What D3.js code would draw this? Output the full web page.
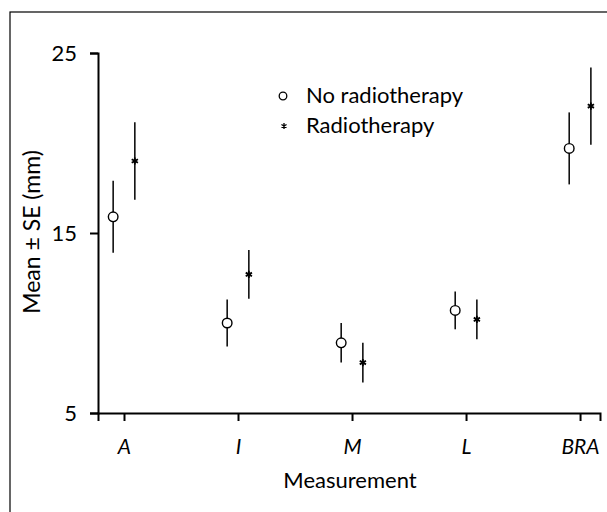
<!DOCTYPE html>
<html><head><meta charset="utf-8">
<script src="https://cdn.jsdelivr.net/npm/d3@7"></script>
<style>body{margin:0;background:#fff}svg{display:block}text{font-family:Lato,"Open Sans",sans-serif;fill:#000}</style>
</head><body>
<script>
const categories = ["A","I","M","L","BRA"];
const noRadMean = [15.9, 10.0, 8.9, 10.7, 19.7];
const noRadSE   = [2.0, 1.3, 1.1, 1.05, 2.0];
const radMean   = [19.0, 12.7, 7.8, 10.2, 22.05];
const radSE     = [2.15, 1.35, 1.1, 1.1, 2.15];
const yTicks = [5, 15, 25];

const W = 607, H = 512;
const svg = d3.select("body").append("svg").attr("width", W).attr("height", H);
// outer frame
svg.append("rect").attr("x", 10).attr("y", 12).attr("width", 620).attr("height", 520)
  .attr("fill", "none").attr("stroke", "#000").attr("stroke-width", 1.2);

const x = d3.scaleLinear().domain([0.772, 5.175]).range([98, 600]);
const y = d3.scaleLinear().domain([5, 25]).range([413, 53]);
const off = 0.095;

// axes
const gx = svg.append("g").attr("transform", "translate(0,413)")
  .call(d3.axisBottom(x).tickValues([1,2,3,4,5]).tickFormat((d,i)=>categories[i]).tickSizeOuter(0).tickSize(8).tickPadding(18));
gx.select(".domain").attr("stroke-width", 2);
gx.selectAll(".tick line").attr("stroke-width", 2);
gx.selectAll(".tick text").attr("font-size", 21).attr("font-style", "italic").attr("fill", "#000").attr("font-family","Lato, sans-serif");

const gy = svg.append("g").attr("transform", "translate(98,0)")
  .call(d3.axisLeft(y).tickValues(yTicks).tickSizeOuter(0).tickSize(8).tickPadding(13));
gy.select(".domain").attr("stroke-width", 2);
gy.selectAll(".tick line").attr("stroke-width", 2);
gy.selectAll(".tick text").attr("font-size", 22).attr("fill", "#000").attr("font-family","Lato, sans-serif");

svg.append("text").attr("x", 350).attr("y", 488).attr("text-anchor", "middle")
  .attr("font-size", 22).text("Measurement");
svg.append("text").attr("transform", "translate(40,232) rotate(-90)").attr("text-anchor", "middle")
  .attr("font-size", 23).text("Mean \u00b1 SE (mm)");

const g = svg.append("g");
const star = d3.symbol().type(d3.symbolAsterisk).size(36);

categories.forEach((c, i) => {
  const xc = x(i + 1 - off), xs = x(i + 1 + off);
  g.append("line").attr("x1", xc).attr("x2", xc)
    .attr("y1", y(noRadMean[i] + noRadSE[i])).attr("y2", y(noRadMean[i] - noRadSE[i]))
    .attr("stroke", "#111").attr("stroke-width", 1.6);
  g.append("circle").attr("cx", xc).attr("cy", y(noRadMean[i])).attr("r", 4.8)
    .attr("fill", "#fff").attr("stroke", "#000").attr("stroke-width", 1.4);
  g.append("line").attr("x1", xs).attr("x2", xs)
    .attr("y1", y(radMean[i] + radSE[i])).attr("y2", y(radMean[i] - radSE[i]))
    .attr("stroke", "#111").attr("stroke-width", 1.6);
  g.append("path").attr("d", star).attr("transform", `translate(${xs},${y(radMean[i])})`)
    .attr("fill", "none").attr("stroke", "#000").attr("stroke-width", 1.8);
});

// legend
const lg = svg.append("g");
lg.append("circle").attr("cx", 283).attr("cy", 96).attr("r", 3.8).attr("fill", "none").attr("stroke", "#000").attr("stroke-width", 1.3);
lg.append("text").attr("x", 306).attr("y", 103).attr("font-size", 22).text("No radiotherapy");
lg.append("path").attr("d", d3.symbol().type(d3.symbolAsterisk).size(24)).attr("transform", "translate(284,126)")
  .attr("fill", "none").attr("stroke", "#000").attr("stroke-width", 1.3);
lg.append("text").attr("x", 306).attr("y", 133).attr("font-size", 22).text("Radiotherapy");
</script>
</body></html>
